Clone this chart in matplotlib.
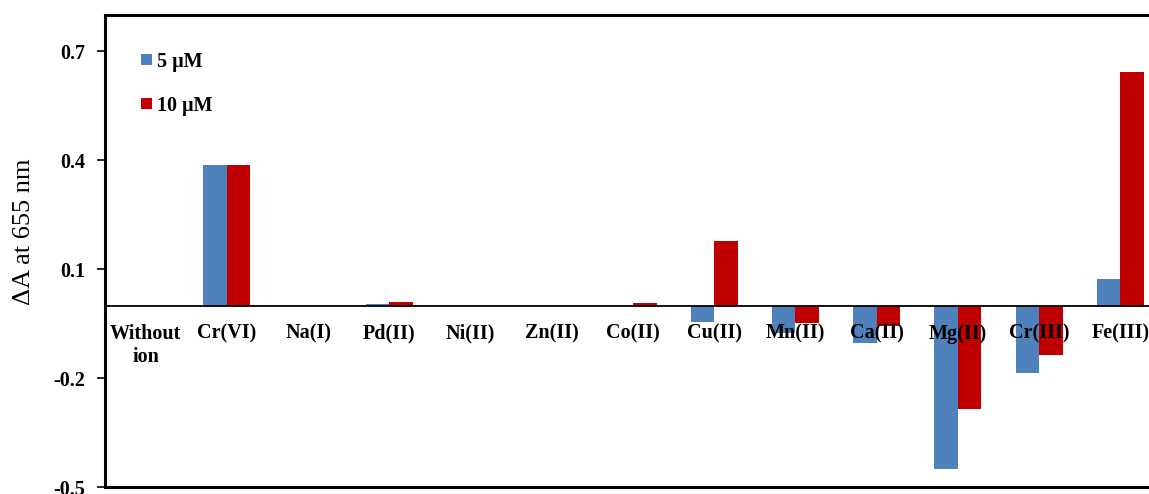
import matplotlib
matplotlib.use("Agg")

import numpy as np
import matplotlib.pyplot as plt

ions = ["Without\nion", "Cr(VI)", "Na(I)", "Pd(II)", "Ni(II)", "Zn(II)",
        "Co(II)", "Cu(II)", "Mn(II)", "Ca(II)", "Mg(II)", "Cr(III)", "Fe(III)"]

dA_5uM = [0.0, 0.386, 0.0, 0.005, 0.0, 0.0, 0.0, -0.046, -0.075, -0.102, -0.450, -0.185, 0.073]
dA_10uM = [0.0, 0.386, 0.0, 0.010, 0.0, 0.0, 0.006, 0.179, -0.047, -0.056, -0.284, -0.136, 0.643]

series_labels = ["5 \u03bcM", "10 \u03bcM"]
yticks = [-0.5, -0.2, 0.1, 0.4, 0.7]

plt.rcParams["font.family"] = ["Liberation Serif", "DejaVu Serif"]

fig = plt.figure(figsize=(11.49, 4.94), dpi=100)
ax = fig.add_axes([0.0914, 0.0132, 0.919, 0.957])

# horizontal axis sits at zero (do this first: it resets the ticks)
ax.spines["bottom"].set_position(("data", 0))
ax.spines["bottom"].set_linewidth(1.3)
for s in ["left", "top", "right"]:
    ax.spines[s].set_linewidth(2.2)

x = np.arange(len(ions))
w = 0.29

ax.bar(x - w / 2, dA_5uM, width=w, color="#4F81BD", label=series_labels[0])
ax.bar(x + w / 2, dA_10uM, width=w, color="#C00000", label=series_labels[1])

ax.set_xlim(-0.5, len(ions) - 0.5)
ax.set_ylim(-0.5, 0.8)
ax.axhline(-0.5, color="black", linewidth=2.2, clip_on=False)

ax.set_yticks(yticks)
ax.set_yticklabels([f"{v:.1f}" for v in yticks], fontsize=14.5, fontweight="bold")
ax.tick_params(axis="y", direction="out", length=6, width=1.2, pad=8)

ax.set_xticks(x)
ax.set_xticklabels(ions, fontsize=14.5, fontweight="bold", linespacing=1.2)
ax.tick_params(axis="x", length=0, pad=13)

ax.set_ylabel("\u0394A at 655 nm", fontsize=19)
ax.yaxis.set_label_coords(-0.066, 0.54)

ax.legend(loc="upper left", bbox_to_anchor=(0.034, 0.922), frameon=False,
          handlelength=0.55, handleheight=0.48, handletextpad=0.25,
          labelspacing=1.2, borderpad=0, borderaxespad=0,
          prop={"family": "Liberation Serif", "weight": "bold", "size": 14.5})

fig.savefig("out.png", dpi=100)
